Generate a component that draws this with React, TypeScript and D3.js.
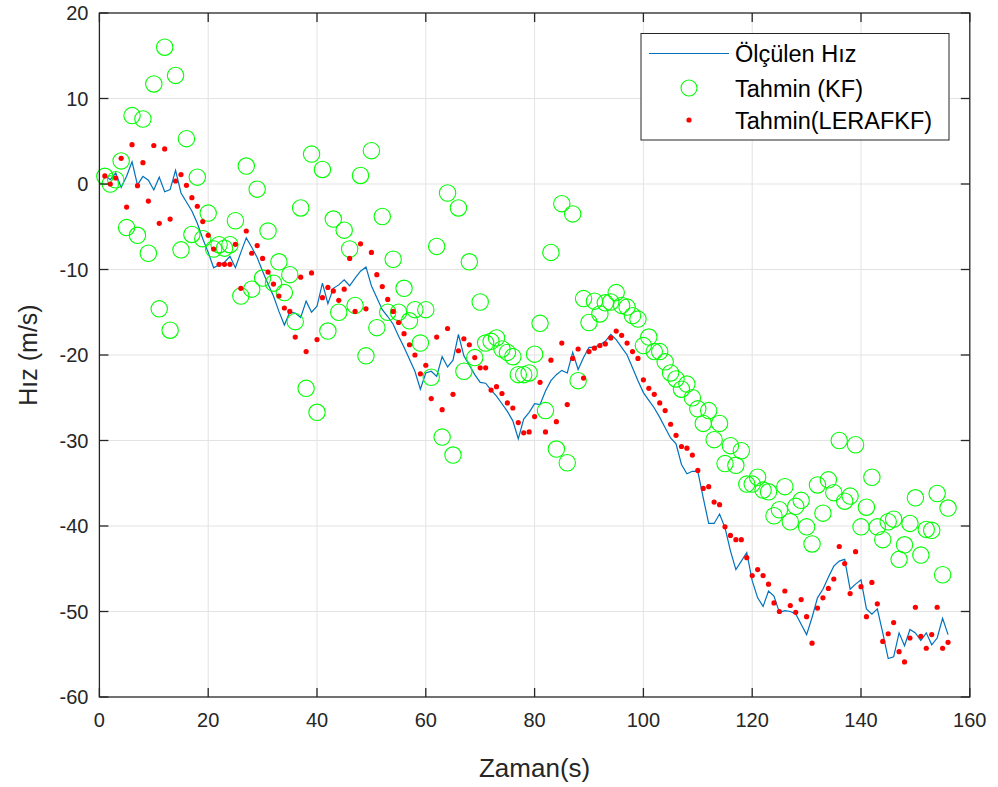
import React from "react";
import * as d3 from "d3";

const measured = [1.0,0.5,1.3,-0.4,0.9,2.6,-0.1,0.9,0.45,-0.7,0.8,-0.9,-0.65,1.6,-1.05,-2.1,-3.15,-4.6,-6.4,-8.0,-9.8,-9.45,-9.15,-8.45,-9.8,-8.0,-6.3,-7.4,-8.6,-10.2,-11.7,-13.1,-14.9,-16.5,-15.0,-15.1,-15.6,-13.7,-15.0,-14.3,-11.6,-14.0,-12.2,-11.8,-11.2,-11.9,-11.0,-10.2,-9.7,-11.9,-13.3,-14.7,-15.5,-16.4,-17.8,-19.1,-20.5,-21.9,-24.0,-22.1,-21.9,-22.5,-20.2,-21.4,-20.6,-17.6,-20.1,-21.2,-22.3,-23.2,-23.3,-24.1,-24.8,-25.7,-26.6,-27.7,-29.8,-27.5,-26.7,-25.7,-25.8,-24.2,-23.0,-22.3,-21.8,-22.1,-19.7,-21.7,-20.3,-19.1,-19.1,-18.8,-18.4,-17.6,-18.2,-19.1,-20.0,-21.5,-23.0,-24.4,-25.3,-26.2,-27.3,-28.5,-29.7,-30.4,-32.8,-33.9,-33.6,-33.6,-36.7,-39.7,-39.7,-38.6,-40.2,-42.9,-45.1,-44.1,-43.1,-46.4,-48.4,-49.4,-47.6,-48.2,-50.1,-49.9,-50.0,-50.3,-51.5,-52.7,-50.7,-48.4,-47.4,-46.0,-44.7,-44.1,-43.9,-47.4,-46.8,-46.3,-49.7,-50.3,-49.7,-52.5,-55.5,-55.3,-52.5,-54.0,-52.1,-52.5,-53.4,-52.5,-53.9,-53.1,-50.8,-52.7];

const kf = [0.9,0.0,0.5,2.7,-5.1,8.0,-6.0,7.6,-8.1,11.7,-14.6,16.0,-17.1,12.7,-7.7,5.3,-5.9,0.8,-6.4,-3.4,-7.6,-7.1,-7.5,-7.1,-4.3,-13.1,2.1,-12.3,-0.6,-11.0,-5.5,-11.6,-9.1,-12.7,-10.6,-16.1,-2.8,-23.9,3.5,-26.7,1.7,-17.2,-4.1,-15.0,-5.4,-7.6,-14.2,1.0,-20.1,3.9,-16.8,-3.8,-15.0,-8.8,-15.0,-12.2,-16.0,-14.7,-18.6,-14.7,-22.6,-7.3,-29.6,-1.05,-31.7,-2.8,-21.9,-9.1,-20.3,-13.8,-18.6,-18.4,-18.0,-19.3,-19.7,-20.2,-22.3,-22.3,-22.1,-19.9,-16.3,-26.5,-8.0,-31.0,-2.3,-32.6,-3.5,-23.0,-13.4,-16.2,-13.7,-15.2,-13.9,-13.8,-12.7,-14.2,-14.4,-15.4,-15.8,-18.9,-17.9,-19.6,-19.6,-20.8,-22.1,-22.8,-24.0,-23.4,-25.0,-26.3,-28.0,-26.5,-29.9,-28.0,-32.7,-30.6,-32.9,-31.2,-35.1,-35.1,-34.3,-35.8,-36.0,-38.8,-38.1,-35.4,-39.5,-37.7,-37.0,-40.1,-42.1,-35.2,-38.5,-34.6,-36.1,-30.0,-37.1,-36.5,-30.5,-40.1,-37.8,-34.3,-40.1,-41.6,-39.5,-39.2,-43.9,-42.2,-39.7,-36.7,-43.4,-40.4,-40.5,-36.2,-45.7,-37.9];

const lerafkf = [0.94,0.0,0.7,3.0,-2.7,4.6,-0.2,2.5,-2.0,4.5,-4.6,4.1,-4.1,0.35,1.1,-0.15,-1.6,-2.6,-4.4,-6.0,-7.6,-9.4,-9.4,-9.4,-7.05,-12.2,-5.5,-8.1,-7.2,-8.7,-10.3,-11.7,-13.1,-14.5,-14.9,-17.9,-10.9,-19.6,-10.4,-18.2,-13.3,-12.1,-12.5,-13.6,-12.3,-8.7,-14.9,-7.0,-14.6,-8.0,-10.6,-12.0,-13.5,-14.9,-16.2,-17.5,-18.8,-20.0,-22.2,-21.2,-25.1,-17.9,-26.4,-16.9,-24.6,-19.5,-18.1,-18.8,-20.3,-21.5,-21.5,-24.1,-23.7,-24.5,-25.6,-26.2,-27.9,-29.1,-29.0,-27.2,-23.2,-29.0,-20.6,-27.8,-18.6,-25.8,-20.4,-19.3,-22.7,-19.6,-19.2,-18.9,-18.7,-18.0,-17.2,-17.7,-18.6,-19.6,-20.4,-22.9,-23.9,-24.6,-25.6,-26.5,-28.1,-29.4,-30.7,-30.9,-31.7,-33.5,-35.6,-35.4,-37.2,-37.5,-40.1,-41.1,-41.6,-41.6,-43.7,-45.8,-45.1,-45.8,-46.8,-49.0,-50.0,-47.6,-49.3,-50.1,-48.6,-50.6,-53.7,-49.6,-48.4,-47.3,-46.2,-42.4,-44.4,-47.9,-43.0,-47.1,-50.6,-46.6,-49.1,-53.5,-52.6,-51.3,-54.7,-55.9,-53.1,-49.5,-52.9,-54.3,-52.7,-49.5,-54.3,-53.6];

const xTicks = [0, 20, 40, 60, 80, 100, 120, 140, 160];
const yTicks = [-60, -50, -40, -30, -20, -10, 0, 10, 20];
const legendLabels = ["Ölçülen Hız", "Tahmin (KF)", "Tahmin(LERAFKF)"];
const xLabel = "Zaman(s)";
const yLabel = "Hız (m/s)";

const W = 998, H = 787;
const L = 99.4, R = 969.8, T = 13, B = 697;
const FONT = "'Liberation Sans', Arial, Helvetica, sans-serif";

export default function App() {
  const times = d3.range(1, measured.length + 1);
  const x = d3.scaleLinear().domain([0, 160]).range([L, R]);
  const y = d3.scaleLinear().domain([-60, 20]).range([B, T]);
  const line = d3.line<number>().x((_, i) => x(times[i])).y((d) => y(d));
  const axisColor = "#262626";
  const tickLen = 9;

  return (
    <div style={{ position: "absolute", left: 0, top: 0 }}>
      <svg width={W} height={H} style={{ display: "block", background: "#fff" }}>
        <rect x={0} y={0} width={W} height={H} fill="#fff" />
        {xTicks.slice(1, -1).map((t) => (
          <line key={"gx" + t} x1={x(t)} x2={x(t)} y1={T} y2={B} stroke="#e3e3e3" strokeWidth={1} />
        ))}
        {yTicks.slice(1, -1).map((t) => (
          <line key={"gy" + t} x1={L} x2={R} y1={y(t)} y2={y(t)} stroke="#e3e3e3" strokeWidth={1} />
        ))}
        <path d={line(measured) || ""} fill="none" stroke="#0072BD" strokeWidth={1.2} />
        {kf.map((v, i) => (
          <circle key={"k" + i} cx={x(times[i])} cy={y(v)} r={8.2} fill="none" stroke="#00FF00" strokeWidth={1.1} />
        ))}
        {lerafkf.map((v, i) => (
          <circle key={"r" + i} cx={x(times[i])} cy={y(v)} r={2.6} fill="#FF0000" />
        ))}
        <rect x={L} y={T} width={R - L} height={B - T} fill="none" stroke={axisColor} strokeWidth={1.3} />
        {xTicks.map((t) => (
          <g key={"xt" + t}>
            <line x1={x(t)} x2={x(t)} y1={B} y2={B - tickLen} stroke={axisColor} strokeWidth={1.3} />
            <line x1={x(t)} x2={x(t)} y1={T} y2={T + tickLen} stroke={axisColor} strokeWidth={1.3} />
            <text x={x(t)} y={B + 30} textAnchor="middle" fontFamily={FONT} fontSize={20} fill={axisColor}>{t}</text>
          </g>
        ))}
        {yTicks.map((t) => (
          <g key={"yt" + t}>
            <line x1={L} x2={L + tickLen} y1={y(t)} y2={y(t)} stroke={axisColor} strokeWidth={1.3} />
            <line x1={R} x2={R - tickLen} y1={y(t)} y2={y(t)} stroke={axisColor} strokeWidth={1.3} />
            <text x={L - 11} y={y(t) + 7} textAnchor="end" fontFamily={FONT} fontSize={20} fill={axisColor}>{t}</text>
          </g>
        ))}
        <text x={(L + R) / 2} y={777} textAnchor="middle" fontFamily={FONT} fontSize={26} fill={axisColor}>{xLabel}</text>
        <text transform={`translate(37, ${(T + B) / 2}) rotate(-90)`} textAnchor="middle" fontFamily={FONT} fontSize={25} fill={axisColor}>{yLabel}</text>
        <g>
          <rect x={641} y={33.5} width={308} height={106.5} fill="#fff" stroke={axisColor} strokeWidth={1} />
          <line x1={649} x2={729} y1={53.5} y2={53.5} stroke="#0072BD" strokeWidth={1.2} />
          <circle cx={689} cy={88} r={8} fill="none" stroke="#00FF00" strokeWidth={1.1} />
          <circle cx={689} cy={120} r={2.6} fill="#FF0000" />
          {legendLabels.map((lab, i) => (
            <text key={lab} x={735} y={[53.5, 88, 120][i] + 8.5} fontFamily={FONT} fontSize={23.5} fill="#000">{lab}</text>
          ))}
        </g>
      </svg>
    </div>
  );
}
